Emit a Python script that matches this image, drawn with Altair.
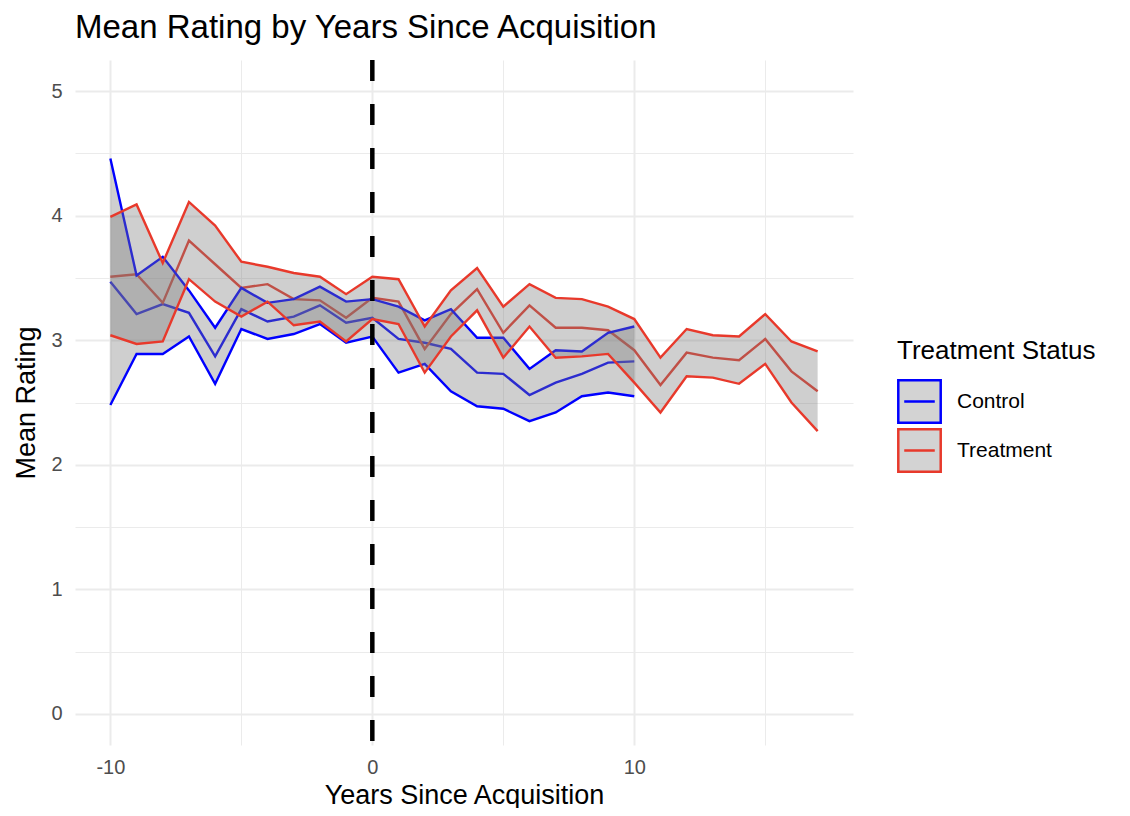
import altair as alt
import pandas as pd

# ---- data ----
control_years = list(range(-10, 11))
control_upper = [4.46, 3.52, 3.67, 3.40, 3.10, 3.42, 3.30, 3.33, 3.43, 3.31, 3.33,
                 3.27, 3.16, 3.25, 3.02, 3.02, 2.77, 2.92, 2.91, 3.06, 3.11]
control_mean = [3.47, 3.21, 3.29, 3.22, 2.87, 3.25, 3.15, 3.19, 3.28, 3.14, 3.18,
                3.01, 2.98, 2.93, 2.74, 2.73, 2.56, 2.66, 2.73, 2.82, 2.83]
control_lower = [2.48, 2.89, 2.89, 3.03, 2.65, 3.09, 3.01, 3.05, 3.13, 2.98, 3.03,
                 2.74, 2.81, 2.59, 2.47, 2.45, 2.35, 2.42, 2.55, 2.58, 2.55]

treat_years = list(range(-10, 18))
treat_upper = [3.99, 4.09, 3.62, 4.11, 3.92, 3.63, 3.59, 3.54, 3.51, 3.37, 3.51,
               3.49, 3.11, 3.40, 3.58, 3.27, 3.45, 3.34, 3.33, 3.27, 3.17,
               2.86, 3.09, 3.04, 3.03, 3.21, 2.99, 2.91]
treat_mean = [3.51, 3.53, 3.30, 3.80, 3.61, 3.42, 3.45, 3.33, 3.32, 3.18, 3.34,
              3.31, 2.93, 3.21, 3.41, 3.06, 3.28, 3.10, 3.10, 3.08, 2.92,
              2.64, 2.90, 2.86, 2.84, 3.01, 2.75, 2.59]
treat_lower = [3.04, 2.97, 2.99, 3.49, 3.31, 3.19, 3.31, 3.12, 3.15, 2.99, 3.17,
               3.13, 2.74, 3.03, 3.24, 2.86, 3.11, 2.86, 2.87, 2.89, 2.66,
               2.42, 2.71, 2.70, 2.65, 2.81, 2.50, 2.27]

statuses = ["Control", "Treatment"]
status_colors = ["#0000FF", "#E8392B"]
acquisition_year = [0]

df = pd.concat([
    pd.DataFrame({"year": control_years, "status": "Control",
                  "lower": control_lower, "mean": control_mean, "upper": control_upper}),
    pd.DataFrame({"year": treat_years, "status": "Treatment",
                  "lower": treat_lower, "mean": treat_mean, "upper": treat_upper}),
], ignore_index=True)

FONT = "Liberation Sans"

x_scale = alt.Scale(domain=[-11.35, 18.35], nice=False, zero=False)
y_scale = alt.Scale(domain=[-0.25, 5.25], nice=False, zero=False)

x_axis = alt.Axis(
    title="Years Since Acquisition",
    values=[-10, -5, 0, 5, 10, 15],
    labelExpr="datum.value % 10 === 0 ? '' + datum.value : ''",
    ticks=False, domain=False, labelPadding=12, titlePadding=5,
    labelFontSize=20, labelColor="#4d4d4d", labelFont=FONT,
    titleFontSize=27, titleFontWeight="normal", titleColor="black", titleFont=FONT,
    gridColor="#ebebeb",
    gridWidth={"condition": {"test": "datum.value % 10 !== 0", "value": 1}, "value": 2},
)
y_axis = alt.Axis(
    title="Mean Rating",
    values=[0, 0.5, 1, 1.5, 2, 2.5, 3, 3.5, 4, 4.5, 5],
    labelExpr="datum.value % 1 === 0 ? '' + datum.value : ''",
    ticks=False, domain=False, labelPadding=13, titlePadding=10,
    labelFontSize=20, labelColor="#4d4d4d", labelFont=FONT,
    titleFontSize=27, titleFontWeight="normal", titleColor="black", titleFont=FONT,
    gridColor="#ebebeb",
    gridWidth={"condition": {"test": "datum.value % 1 !== 0", "value": 1}, "value": 2},
)

legend = alt.Legend(
    title="Treatment Status", orient="none", legendX=822, legendY=278,
    titleFontSize=26, titleFontWeight="normal", titleColor="black", titleFont=FONT,
    titlePadding=15, titleLimit=400, labelLimit=300,
    labelFontSize=21, labelColor="black", labelFont=FONT, labelOffset=15,
    symbolType="M-1,-1H1V1H-1Z M-0.72,0H0.72",
    symbolSize=1800, symbolStrokeWidth=2.5, symbolFillColor="#d3d3d3",
    symbolOpacity=1, rowPadding=-9,
)
color = alt.Color("status:N", scale=alt.Scale(domain=statuses, range=status_colors),
                  legend=legend)

base = alt.Chart(df)
X = alt.X("year:Q", scale=x_scale, axis=x_axis)

means = base.mark_line(strokeWidth=2.4).encode(
    x=X, y=alt.Y("mean:Q", scale=y_scale, axis=y_axis), color=color)

def ribbon(status):
    sub = base.transform_filter(alt.datum.status == status)
    fill = sub.mark_area(color="#7a7a7a", opacity=0.36).encode(
        x=X, y=alt.Y("lower:Q", scale=y_scale, axis=y_axis), y2="upper:Q")
    bounds = sub.transform_fold(["lower", "upper"], as_=["bound", "val"]).mark_line(
        strokeWidth=2.4).encode(
        x=X, y=alt.Y("val:Q", scale=y_scale, axis=y_axis), color=color,
        detail="bound:N")
    return fill + bounds

vline = alt.Chart(pd.DataFrame({"x": acquisition_year})).mark_rule(
    color="black", strokeWidth=4.5, strokeDash=[21, 23], strokeCap="butt").encode(
    x=alt.X("x:Q", scale=x_scale, axis=x_axis))

chart = alt.layer(means, ribbon("Control"), ribbon("Treatment"), vline).properties(
    width=778, height=685,
    title=alt.TitleParams("Mean Rating by Years Since Acquisition", anchor="start",
                          fontSize=33, fontWeight="normal", color="black", font=FONT,
                          offset=13, frame="group"),
    autosize=alt.AutoSizeParams(type="none"),
    padding={"left": 67, "top": 52, "right": 269, "bottom": 63},
).configure(background="white").configure_view(stroke=None, strokeWidth=0)

chart.save("out.html", embed_options={"renderer": "svg", "actions": False})
